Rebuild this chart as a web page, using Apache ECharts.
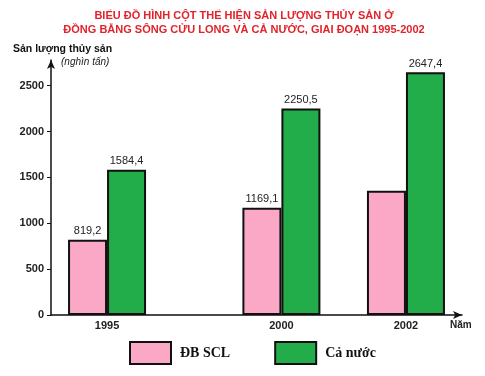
<!DOCTYPE html>
<html>
<head>
<meta charset="utf-8">
<script src="https://cdn.jsdelivr.net/npm/echarts@6/dist/echarts.min.js"></script>
<style>html,body{margin:0;padding:0;background:#fff;}#c{width:485px;height:376px;}</style>
</head>
<body>
<div id="c"></div>
<script>
// ---- data ----
var years = ['1995', '2000', '2002'];
var dbscl = [819.2, 1169.1, 1354.5];
var caNuoc = [1584.4, 2250.5, 2647.4];
var dbsclLabelShown = [true, true, false];
var yTicks = [0, 500, 1000, 1500, 2000, 2500];
var seriesNames = ['ĐB SCL', 'Cả nước'];

// ---- layout: uneven spacing of years on the axis (slot index per year) ----
var slotCount = 33;
var slots = [4, 18, 28];

var cats = [], s1 = [], s2 = [];
for (var i = 0; i < slotCount; i++) { cats.push(''); s1.push(null); s2.push(null); }
years.forEach(function (y, k) {
  cats[slots[k]] = y;
  s1[slots[k]] = { value: dbscl[k], label: { show: dbsclLabelShown[k] } };
  s2[slots[k]] = { value: caNuoc[k] };
});

function fmt(v) { return String(v).replace('.', ','); }

var chart = echarts.init(document.getElementById('c'));
chart.setOption({
  animation: false,
  backgroundColor: '#fff',
  title: {
    text: 'BIỂU ĐỒ HÌNH CỘT THỂ HIỆN SẢN LƯỢNG THỦY SẢN Ở\nĐỒNG BẰNG SÔNG CỬU LONG VÀ CẢ NƯỚC, GIAI ĐOẠN 1995-2002',
    left: 244,
    top: 9,
    textAlign: 'center',
    padding: 0,
    textStyle: { color: '#e0242b', fontSize: 11, fontWeight: 'bold', fontFamily: 'Liberation Sans, Arial', lineHeight: 14, align: 'center' }
  },
  graphic: [
    { type: 'text', left: 13, top: 44, style: { text: 'Sản lượng thủy sản', font: 'bold 10.5px "Liberation Sans", Arial', fill: '#111' } },
    { type: 'text', left: 61, top: 57, style: { text: '(nghìn tấn)', font: 'italic 10px "Liberation Sans", Arial', fill: '#222' } },
    { type: 'text', left: 450, top: 320, style: { text: 'Năm', font: 'bold 10px "Liberation Sans", Arial', fill: '#222' } }
  ],
  legend: {
    left: 129,
    top: 341,
    padding: 0,
    itemWidth: 41,
    itemHeight: 22,
    itemGap: 44,
    icon: 'rect',
    data: seriesNames,
    textStyle: { fontFamily: 'Liberation Serif, Times New Roman', fontWeight: 'bold', fontSize: 14, color: '#111', padding: [0, 0, 0, 4] }
  },
  grid: { left: 51, top: 60, width: 411, height: 255, containLabel: false },
  xAxis: {
    type: 'category',
    data: cats,
    axisLine: { show: true, symbol: ['none', 'arrow'], symbolSize: [6, 9], lineStyle: { color: '#111', width: 1.5 } },
    axisTick: { show: false },
    axisLabel: { interval: 0, color: '#222', fontWeight: 'bold', fontSize: 11, fontFamily: 'Liberation Sans, Arial', margin: 5 },
    splitLine: { show: false }
  },
  yAxis: {
    type: 'value',
    min: 0,
    max: 2780,
    interval: 500,
    axisLine: { show: true, symbol: ['none', 'arrow'], symbolSize: [6, 9], lineStyle: { color: '#111', width: 1.5 } },
    axisTick: { show: true, length: 4, customValues: yTicks, lineStyle: { color: '#111' } },
    axisLabel: { customValues: yTicks, formatter: function (v) { return String(v); }, color: '#222', fontWeight: 'bold', fontSize: 11, fontFamily: 'Liberation Sans, Arial', margin: 7 },
    splitLine: { show: false }
  },
  series: [
    {
      name: seriesNames[0], type: 'bar', data: s1, barWidth: 39, barGap: '0%',
      itemStyle: { color: '#fba8c6', borderColor: '#111', borderWidth: 2 },
      label: { show: true, position: 'top', distance: 3, color: '#222', fontSize: 11, fontFamily: 'Liberation Sans, Arial', formatter: function (p) { return fmt(p.value); } }
    },
    {
      name: seriesNames[1], type: 'bar', data: s2, barWidth: 39, barGap: '0%',
      itemStyle: { color: '#22ad4a', borderColor: '#111', borderWidth: 2 },
      label: { show: true, position: 'top', distance: 3, color: '#222', fontSize: 11, fontFamily: 'Liberation Sans, Arial', formatter: function (p) { return fmt(p.value); } }
    }
  ]
});
</script>
</body>
</html>
